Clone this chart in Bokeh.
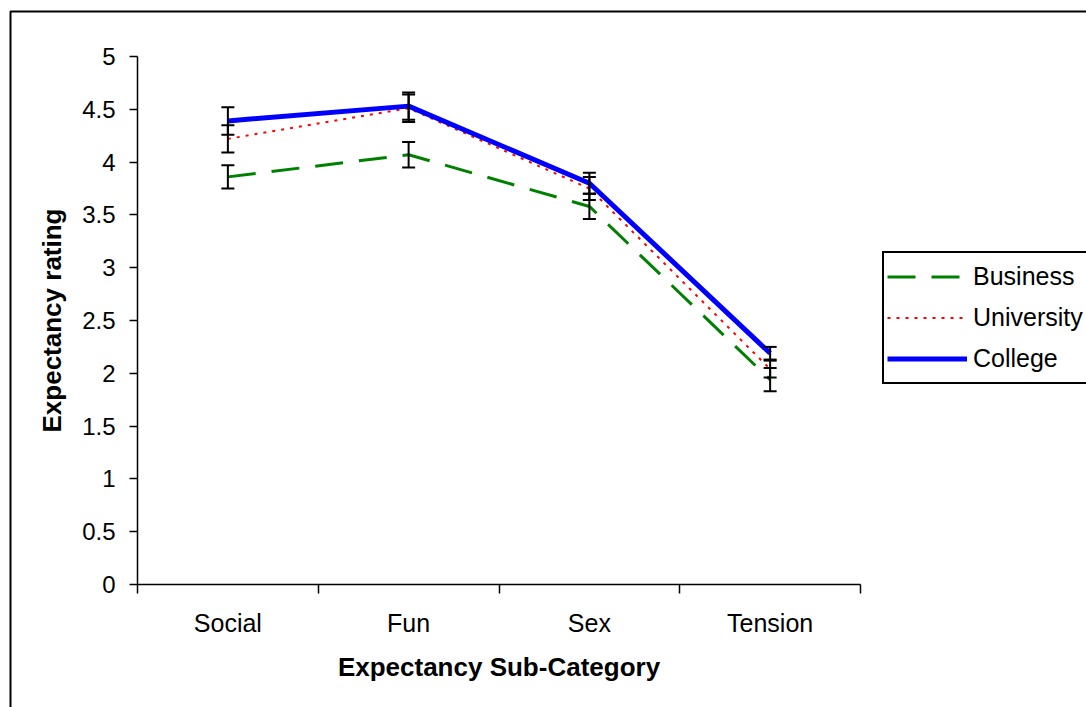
from bokeh.plotting import figure
from bokeh.models import (Range1d, FixedTicker, CustomJSTickFormatter, NumeralTickFormatter,
                          Legend, LegendItem, Whisker, TeeHead, ColumnDataSource, BoxAnnotation)
from bokeh.embed import file_html
from bokeh.resources import INLINE

# ---- data ----
categories = ["Social", "Fun", "Sex", "Tension"]
business = [3.86, 4.07, 3.58, 1.94]
business_err = [0.11, 0.12, 0.12, 0.11]
university = [4.22, 4.51, 3.75, 2.04]
university_err = [0.13, 0.13, 0.11, 0.08]
college = [4.39, 4.53, 3.80, 2.19]
college_err = [0.13, 0.13, 0.10, 0.06]
y_ticks = [0, 0.5, 1, 1.5, 2, 2.5, 3, 3.5, 4, 4.5, 5]
y_min, y_max = 0, 5
x_label = "Expectancy Sub-Category"
y_label = "Expectancy rating"

FONT = "Liberation Sans"
W, H = 1086, 707
# plot-area placement on the canvas (pixels)
PL, PR, PT, PB = 137, 860, 56, 584

n = len(categories)
x_pos = [i + 0.5 for i in range(n)]
x_bounds = [float(i) for i in range(n + 1)]

# frame covers whole canvas; ranges chosen so that the data area sits at PL..PR / PT..PB
xs = n / (PR - PL)
ys = (y_max - y_min) / (PB - PT)
x_range = Range1d(0 - PL * xs, n + (W - PR) * xs)
y_range = Range1d(y_min - (H - PB) * ys, y_max + PT * ys)

p = figure(width=W, height=H, output_backend="svg", toolbar_location=None,
           x_range=x_range, y_range=y_range, min_border=0)
p.background_fill_color = "white"
p.border_fill_color = "white"
p.outline_line_color = None
p.xgrid.visible = False
p.ygrid.visible = False

# outer chart border
p.add_layout(BoxAnnotation(left=10, right=1200, top=11, bottom=800,
                           left_units="canvas", right_units="canvas",
                           top_units="canvas", bottom_units="canvas",
                           fill_alpha=0, line_color="black", line_alpha=1,
                           line_width=2, level="underlay"))

# x axis
xa = p.xaxis[0]
xa.fixed_location = y_min
xa.bounds = (0, n)
xa.ticker = FixedTicker(ticks=x_pos, minor_ticks=x_bounds)
xa.formatter = CustomJSTickFormatter(args=dict(cats=categories),
                                     code="return cats[Math.floor(tick)] || ''")
xa.major_tick_line_color = None
xa.major_tick_out = 0
xa.major_tick_in = 0
xa.minor_tick_line_color = "black"
xa.minor_tick_line_width = 1.5
xa.minor_tick_out = 9
xa.minor_tick_in = 0
xa.axis_line_color = "black"
xa.axis_line_width = 1.5
xa.major_label_text_font = FONT
xa.major_label_text_font_size = "25px"
xa.major_label_text_color = "black"
xa.major_label_standoff = 15
xa.axis_label = x_label
xa.axis_label_text_font = FONT
xa.axis_label_text_font_size = "26px"
xa.axis_label_text_font_style = "bold"
xa.axis_label_text_color = "black"
xa.axis_label_standoff = 12

# y axis
ya = p.yaxis[0]
ya.fixed_location = 0
ya.bounds = (y_min, y_max)
ya.ticker = FixedTicker(ticks=y_ticks)
ya.formatter = NumeralTickFormatter(format="0.[0]")
ya.major_tick_line_color = "black"
ya.major_tick_line_width = 1.5
ya.major_tick_out = 8
ya.major_tick_in = 0
ya.minor_tick_line_color = None
ya.axis_line_color = "black"
ya.axis_line_width = 1.5
ya.major_label_text_font = FONT
ya.major_label_text_font_size = "24px"
ya.major_label_text_color = "black"
ya.major_label_standoff = 14
ya.axis_label = y_label
ya.axis_label_text_font = FONT
ya.axis_label_text_font_size = "26px"
ya.axis_label_text_font_style = "bold"
ya.axis_label_text_color = "black"
ya.axis_label_standoff = 12

# lines
r_b = p.line(x_pos, business, line_color="#008000", line_width=3, line_dash="28 16")
r_u = p.line(x_pos, university, line_color="#FF0000", line_width=2, line_dash="3 6")
r_c = p.line(x_pos, college, line_color="#0000FF", line_width=5)

# error bars
for vals, errs in [(business, business_err), (university, university_err), (college, college_err)]:
    src = ColumnDataSource(data=dict(
        x=x_pos,
        upper=[v + e for v, e in zip(vals, errs)],
        lower=[v - e for v, e in zip(vals, errs)]))
    w = Whisker(base="x", upper="upper", lower="lower", source=src,
                line_color="black", line_width=2, level="annotation",
                upper_head=TeeHead(size=13, line_color="black", line_width=2),
                lower_head=TeeHead(size=13, line_color="black", line_width=2))
    p.add_layout(w)

legend = Legend(items=[LegendItem(label="Business", renderers=[r_b]),
                       LegendItem(label="University", renderers=[r_u]),
                       LegendItem(label="College", renderers=[r_c])],
                location=(882, H - 384), orientation="vertical",
                padding=3, spacing=0, margin=0,
                label_height=41, glyph_height=41, glyph_width=80,
                label_width=160, label_standoff=6,
                label_text_font=FONT, label_text_font_size="25px", label_text_color="black",
                border_line_color="black", border_line_alpha=1, border_line_width=2,
                background_fill_color="white", background_fill_alpha=1)
p.add_layout(legend, "center")

open("out.html", "w").write(file_html(p, INLINE))
